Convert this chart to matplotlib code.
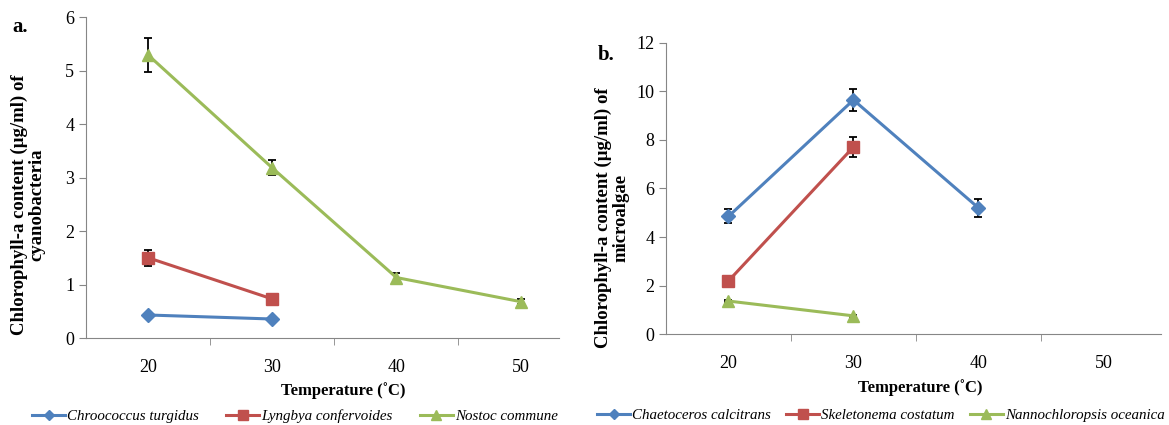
import matplotlib
import numpy as np

matplotlib.use("Agg")
import matplotlib.pyplot as plt

# temperature categories
temps = ["20", "30", "40", "50"]

# panel a: cyanobacteria
chroo = [0.43, 0.355]
chroo_err = [0.03, 0.02]
lyng = [1.50, 0.73]
lyng_err = [0.15, 0.05]
nostoc = [5.29, 3.18, 1.13, 0.68]
nostoc_err = [0.31, 0.14, 0.08, 0.04]

# panel b: microalgae
chaeto = [4.85, 9.65, 5.2]
chaeto_err = [0.29, 0.47, 0.36]
skelet = [2.19, 7.71]
skelet_err = [0.1, 0.4]
nanno = [1.36, 0.75]
nanno_err = [0.05, 0.04]

BLUE = "#4F81BD"
RED = "#C0504D"
GREEN = "#9BBB59"
AXC = "#868686"

plt.rcParams["font.family"] = ["Liberation Serif", "DejaVu Serif"]


def _series(ax, vals, errs, color, marker, ms, label):
    x = np.arange(1, len(vals) + 1)
    ax.errorbar(x, vals, yerr=errs, fmt="none", ecolor="black", elinewidth=1.3,
                capsize=3, capthick=1.3, zorder=2)
    line, = ax.plot(x, vals, color=color, lw=2.2, marker=marker, ms=ms,
                    label=label, zorder=3)
    return line


def _style(ax, xmax, ymax, ystep):
    ax.set_xlim(0.5, xmax)
    ax.set_ylim(0, ymax)
    ax.set_yticks(np.arange(0, ymax + 0.1, ystep))
    ax.set_xticks(np.arange(1, 5))
    ax.set_xticklabels(temps)
    ax.set_xticks([1.5, 2.5, 3.5], minor=True)
    ax.tick_params(axis="x", which="major", length=0, pad=15, labelsize=13)
    ax.tick_params(axis="x", which="minor", length=5, color=AXC, direction="out")
    ax.tick_params(axis="y", length=5, color=AXC, direction="out", labelsize=13)
    for s in ["top", "right"]:
        ax.spines[s].set_visible(False)
    for s in ["left", "bottom"]:
        ax.spines[s].set_color(AXC)


W, H = 1169, 425
fig = plt.figure(figsize=(W / 100, H / 100), dpi=100)

ax1 = fig.add_axes([0.0736, 0.2047, 0.4046, 0.7553])
h1 = [
    _series(ax1, chroo, chroo_err, BLUE, "D", 7, "Chroococcus turgidus"),
    _series(ax1, lyng, lyng_err, RED, "s", 9, "Lyngbya confervoides"),
    _series(ax1, nostoc, nostoc_err, GREEN, "^", 9, "Nostoc commune"),
]
_style(ax1, 4.31, 6, 1)

ax2 = fig.add_axes([0.5697, 0.214, 0.4234, 0.685])
h2 = [
    _series(ax2, chaeto, chaeto_err, BLUE, "D", 7, "Chaetoceros calcitrans"),
    _series(ax2, skelet, skelet_err, RED, "s", 9, "Skeletonema costatum"),
    _series(ax2, nanno, nanno_err, GREEN, "^", 9, "Nannochloropsis oceanica"),
]
_style(ax2, 4.46, 12, 2)

ylab_kw = dict(rotation=90, ha="center", va="center", fontsize=13.5,
               fontweight="bold", linespacing=1.0, multialignment="center")
fig.text(28 / W, 1 - 205 / H, "Chlorophyll-a content (\u00b5g/ml) of\ncyanobacteria", **ylab_kw)
fig.text(612 / W, 1 - 218 / H, "Chlorophyll-a content (\u00b5g/ml) of\nmicroalgae", **ylab_kw)

xlab_kw = dict(ha="center", va="center", fontsize=12, fontweight="bold")
fig.text(343 / W, 1 - 391 / H, "Temperature (\u02daC)", **xlab_kw)
fig.text(920 / W, 1 - 388 / H, "Temperature (\u02daC)", **xlab_kw)

leg_kw = dict(loc="center", ncol=3, frameon=False, prop={"style": "italic", "size": 10.8},
              handlelength=2.2, handletextpad=0.15, markerscale=0.75, borderpad=0)
fig.legend(handles=h1, bbox_to_anchor=(295 / W, 1 - 416 / H), columnspacing=1.8, **leg_kw)
fig.legend(handles=h2, bbox_to_anchor=(881 / W, 1 - 415 / H), columnspacing=1.0, **leg_kw)

fig.text(0.011, 0.925, "a.", fontsize=15, fontweight="bold")
fig.text(0.511, 0.86, "b.", fontsize=15, fontweight="bold")

fig.savefig("out.png", dpi=100)
